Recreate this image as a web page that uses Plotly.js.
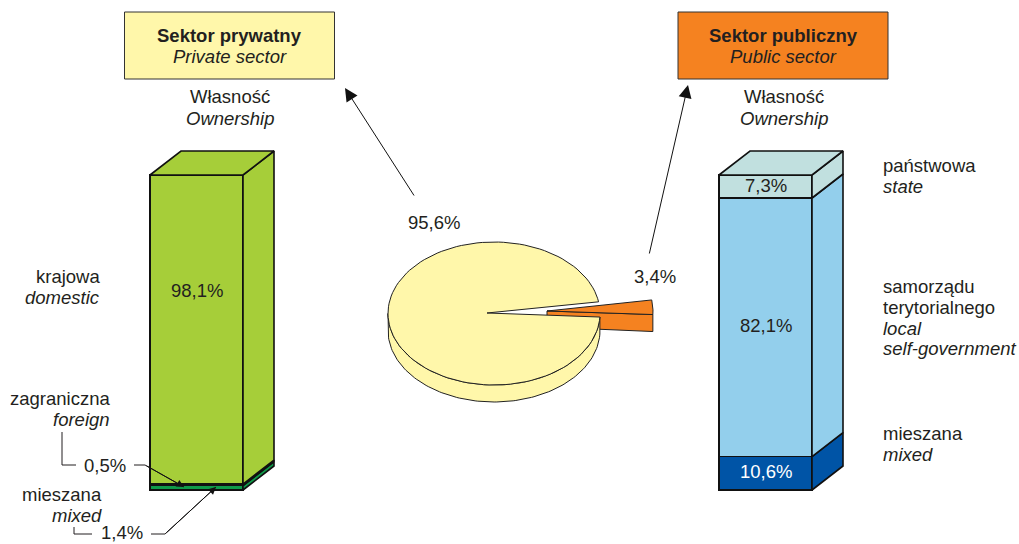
<!DOCTYPE html>
<html>
<head>
<meta charset="utf-8">
<script src="https://cdn.plot.ly/plotly-3.0.1.min.js"></script>
<style>html,body{margin:0;padding:0;background:#fff}#chart{width:1019px;height:544px}</style>
</head>
<body>
<div id="chart"></div>
<script>
// ---- data ----
const sectorShares = [95.6, 3.4];
const privateOwnership = ['mieszana', 'zagraniczna', 'krajowa'];
const privateValues = [1.4, 0.5, 98.1];
const privateColors = ['#0F9A4A', '#111111', '#A6CE39'];
const publicOwnership = ['mieszana', 'samorządu terytorialnego', 'państwowa'];
const publicValues = [10.6, 82.1, 7.3];
const publicColors = ['#0054A6', '#93CFEC', '#C1E0DF'];

// ---- geometry of the page ----
const W = 1019, H = 544;
const INK = '#231F20', FONT = '"Liberation Sans", Arial, sans-serif', FS = 18.5;
const barSpacingPx = 569, barWidthPx = 93, firstBarPx = 196.5;
const zeroY = 490, pxPerPct = 3.15;
const depthX = 31 / barSpacingPx, depthY = 24 / pxPerPct, barW = barWidthPx / barSpacingPx;

const traces = [];

function poly(xs, ys, fill, lineW, axes, color) {
  traces.push({
    type: 'scatter', mode: 'lines', x: xs.concat(xs[0]), y: ys.concat(ys[0]),
    fill: 'toself', fillcolor: fill, line: { color: color || '#111', width: lineW },
    xaxis: axes === 'px' ? 'x2' : 'x', yaxis: axes === 'px' ? 'y2' : 'y',
    hoverinfo: 'skip', showlegend: false
  });
}
function stack(i, names, values, colors) {
  let c = 0;
  const xr = i + barW / 2, xl = i - barW / 2;
  values.forEach((v, k) => {
    traces.push({
      type: 'bar', x: [i], y: [v], name: names[k], width: barW,
      marker: { color: colors[k], line: { color: '#111', width: 1.6 } },
      hoverinfo: 'skip', showlegend: false
    });
    poly([xr, xr + depthX, xr + depthX, xr],
         [c, c + depthY, c + v + depthY, c + v], colors[k], 1.6);
    c += v;
  });
  const top = colors[colors.length - 1];
  poly([xl, xl + depthX, xr + depthX, xr],
       [c, c + depthY, c + depthY, c], top, 1.6);
}
stack(0, privateOwnership, privateValues, privateColors);
stack(1, publicOwnership, publicValues, publicColors);

// ---- exploded 3-D pie ----
const rx = 106, ry = 71.5, thick = 17, pieStart = 9.4;
const sweep = sectorShares[1] / 100 * 360;
const YEL = '#FFF7AA', ORG = '#F58220', PIE_LINE = '#222';
function arc(cx, cy, a0, a1) {
  const xs = [], ys = [], n = 120;
  for (let j = 0; j <= n; j++) {
    const t = (a0 + (a1 - a0) * j / n) * Math.PI / 180;
    xs.push(cx + rx * Math.cos(t)); ys.push(cy - ry * Math.sin(t));
  }
  return [xs, ys];
}
const cxB = 494, cyB = 313.5, apexB = [487, 313];
const cxO = 547, cyO = 311;
const [oax, oay] = arc(cxO, cyO, pieStart, pieStart - sweep);
const oEndX = oax[oax.length - 1], oEndY = oay[oay.length - 1];
// orange wall
poly([cxO, oEndX, oEndX, cxO], [cyO, oEndY, oEndY + thick, cyO + 16], ORG, 1, 'px', PIE_LINE);
// orange top
poly([cxO].concat(oax), [cyO].concat(oay), ORG, 1, 'px', PIE_LINE);
// yellow wall
const [wx, wy] = arc(cxB, cyB, pieStart - sweep, -180);
poly(wx.concat(wx.slice().reverse()), wy.concat(wy.slice().reverse().map(v => v + thick)), YEL, 1, 'px', PIE_LINE);
// yellow top
const [bx, by] = arc(cxB, cyB, pieStart, pieStart - sweep + 360);
poly([apexB[0]].concat(bx), [apexB[1]].concat(by), YEL, 1, 'px', PIE_LINE);

// ---- leader lines ----
function leader(xs, ys) {
  traces.push({ type: 'scatter', mode: 'lines', x: xs, y: ys, xaxis: 'x2', yaxis: 'y2',
    line: { color: INK, width: 1 }, hoverinfo: 'skip', showlegend: false });
}
leader([62, 62, 76], [432, 465, 465]);
leader([134, 145, 184], [465, 465, 487]);
leader([74, 74, 92], [527, 534, 534]);
leader([151, 165, 216], [534, 534, 487]);

// ---- texts ----
const pct = v => v.toFixed(1).replace('.', ',') + '%';
const annotations = [];
function txt(x, y, text, anchor, opt) {
  annotations.push(Object.assign({
    x: x, y: y, xref: 'x2', yref: 'y2', text: text, showarrow: false,
    xanchor: anchor || 'center', yanchor: 'middle', borderpad: 0,
    font: { family: FONT, size: FS, color: INK }
  }, opt || {}));
}
function arrow(x0, y0, x1, y1, head, size) {
  annotations.push({
    x: x1, y: y1, xref: 'x2', yref: 'y2', ax: x0 - x1, ay: y0 - y1, axref: 'pixel', ayref: 'pixel',
    text: '', showarrow: true, arrowhead: head, arrowsize: size, arrowwidth: 1,
    arrowcolor: '#111', standoff: 0, startstandoff: 0
  });
}
const B = t => '<b>' + t + '</b>', I = t => '<i>' + t + '</i>';

txt(229.5, 35.5, B('Sektor prywatny')); txt(230, 56.5, I('Private sector'));
txt(783, 35.5, B('Sektor publiczny')); txt(783.5, 56.5, I('Public sector'));
txt(229.5, 96.5, 'Własność'); txt(230, 118.5, I('Ownership'));
txt(783.5, 96.5, 'Własność'); txt(784, 118.5, I('Ownership'));
txt(434, 222.5, pct(sectorShares[0])); txt(655, 276.5, pct(sectorShares[1]));
txt(196.5, 290, pct(privateValues[2]));
txt(765.5, 185.5, pct(publicValues[2]));
txt(765.5, 325.5, pct(publicValues[1]));
txt(765.5, 471.5, pct(publicValues[0]), 'center', { font: { family: FONT, size: FS, color: '#fff' } });
txt(100.5, 276, 'krajowa', 'right'); txt(100.5, 297, I('domestic'), 'right');
txt(110.5, 398, 'zagraniczna', 'right'); txt(110.5, 419, I('foreign'), 'right');
txt(105, 465, pct(privateValues[1]));
txt(102.5, 494, 'mieszana', 'right'); txt(102.5, 515, I('mixed'), 'right');
txt(122, 532.5, pct(privateValues[0]));
txt(881.5, 165, 'państwowa', 'left'); txt(881.5, 186, I('state'), 'left');
txt(881.5, 286, 'samorządu', 'left'); txt(881.5, 307, 'terytorialnego', 'left');
txt(881.5, 328, I('local'), 'left'); txt(881.5, 348, I('self-government'), 'left');
txt(881.5, 433, 'mieszana', 'left'); txt(881.5, 454, I('mixed'), 'left');

arrow(415, 197, 345, 88, 2, 2.6);
arrow(649, 255, 688, 85, 2, 2.6);
arrow(145, 465, 184, 487, 2, 1.5);
arrow(165, 534, 216, 487, 2, 1.5);

// ---- sector boxes ----
const box = (x0, x1, fill) => ({
  type: 'rect', xref: 'x2', yref: 'y2', x0: x0, x1: x1, y0: 12, y1: 79,
  fillcolor: fill, line: { color: '#333', width: 1 }, layer: 'below'
});

const layout = {
  width: W, height: H, margin: { l: 0, r: 0, t: 0, b: 0 },
  paper_bgcolor: '#fff', plot_bgcolor: 'rgba(0,0,0,0)',
  barmode: 'stack', bargap: 0, showlegend: false, hovermode: false,
  xaxis: { visible: false, type: 'linear', fixedrange: true,
    range: [-firstBarPx / barSpacingPx, (W - firstBarPx) / barSpacingPx] },
  yaxis: { visible: false, fixedrange: true,
    range: [(zeroY - H) / pxPerPct, zeroY / pxPerPct] },
  xaxis2: { visible: false, overlaying: 'x', range: [0, W], fixedrange: true },
  yaxis2: { visible: false, overlaying: 'y', range: [H, 0], fixedrange: true },
  shapes: [box(124.5, 334.5, YEL), box(678, 888, ORG)],
  annotations: annotations
};
Plotly.newPlot('chart', traces, layout, { displayModeBar: false, staticPlot: true });
</script>
</body>
</html>
